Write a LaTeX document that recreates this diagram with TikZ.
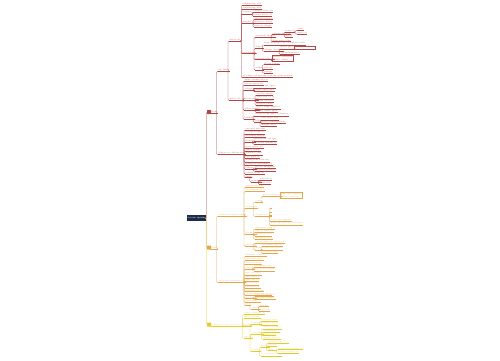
\documentclass[tikz,border=0pt]{standalone}
\usepackage{tikz}
\definecolor{mindred}{HTML}{B04646}
\definecolor{mindorange}{HTML}{E3A84E}
\definecolor{mindyellow}{HTML}{E2CC2C}
\definecolor{mindnavy}{HTML}{1F2B4A}
\colorlet{br}{mindred}
\tikzset{
  lf/.style={font=\fontsize{2.2}{2.6}\selectfont, text=br!80, inner sep=0.35pt, anchor=west,
             append after command={(\tikzlastnode.south west) edge[draw=br, line width=0.3pt] (\tikzlastnode.south east)}},
  notebox/.style={lf, draw=br, line width=0.3pt, align=left, inner sep=0.6pt},
  stub/.style={lf, minimum width=1.6pt},
  ln/.style={draw=br, line width=0.35pt, rounded corners=1pt},
  tag/.style={fill=br, minimum size=4pt, inner sep=0pt, rounded corners=0.5pt},
  rootbox/.style={fill=mindnavy, text=white, font=\fontsize{2.4}{2.8}\selectfont, minimum width=17pt,
                  minimum height=6.5pt, inner sep=0.5pt},
}
\begin{document}
\begin{tikzpicture}[x=1pt,y=-1pt]
\path[use as bounding box, fill=white] (0,0) rectangle (500,360);
\node[rootbox] (root) at (196.5,218) {lorem ipsum};

\begin{scope}
\colorlet{br}{mindred}
\node[tag] (t1) at (209,112) {};
\node[lf] (m1) at (211,112) {item};
\node[lf] (A) at (218,70) {sit amet};
\node[lf] (B) at (218,153) {labore et dolore ma};
\foreach \k in {A,B} \draw[ln] (m1.south east) -- (m1.south east -| 216.5,0) |- (\k.south west);

\node[lf] (A1) at (229,40) {dolor sit};
\node[lf] (A2) at (229,99) {dolor sit am};
\foreach \k in {A1,A2} \draw[ln] (A.south east) -- (A.south east -| 228,0) |- (\k.south west);

\node[lf] (a1) at (242,4) {adipiscing elit};
\node[lf] (a2) at (242,7.5) {adipiscing sed};
\node[lf] (a3) at (242,12.5) {tempor};
\node[lf] (a4) at (242,22) {magna al};
\node[lf] (a5) at (242,52.3) {incididunt};
\node[lf] (a6) at (242,76) {ut enim ad minim veniam quis nostru};
\foreach \k in {a1,a2,a3,a4,a5,a6} \draw[ln] (A1.south east) -- (A1.south east -| 241.2,0) |- (\k.south west);

\node[lf] (a31) at (253,11) {consectetur ad};
\node[lf] (a32) at (253,14.5) {consectetur el};
\foreach \k in {a31,a32} \draw[ln] (a3.south east) -- (a3.south east -| 252,0) |- (\k.south west);
\node[lf] (a41) at (254,18.3) {exercitation u};
\node[lf] (a42) at (254,22) {ullamco labor};
\node[lf] (a43) at (254,25.5) {nisi ut aliqui};
\foreach \k in {a41,a42,a43} \draw[ln] (a4.south east) -- (a4.south east -| 253,0) |- (\k.south west);

\node[lf] (a51) at (255,36) {nostrud exercit};
\node[lf] (a52) at (255,47) {fugiat};
\node[lf] (a53) at (255,58.3) {laboris nisi ut};
\node[lf] (a54) at (255,68.3) {aliqua};
\foreach \k in {a51,a52,a53,a54} \draw[ln] (a5.south east) -- (a5.south east -| 254,0) |- (\k.south west);
\node[lf] (a511) at (272,33.3) {commodo con};
\node[lf] (a512) at (272,40.3) {duis aute irur};
\foreach \k in {a511,a512} \draw[ln] (a51.south east) -- (a51.south east -| 271,0) |- (\k.south west);
\node[lf] (a5111) at (285,30.7) {irure d};
\node[lf] (a5112) at (285,35.7) {dolor};
\foreach \k in {a5111,a5112} \draw[ln] (a511.south east) -- (a511.south east -| 284,0) |- (\k.south west);
\node[lf] (a5113) at (297,28.7) {velit};
\node[lf] (a5114) at (297,32.7) {esse cil};
\foreach \k in {a5113,a5114} \draw[ln] (a5111.south east) -- (a5111.south east -| 295.5,0) |- (\k.south west);
\node[lf] (a521) at (263.5,43.3) {reprehenderit in voluptate velit};
\node[lf] (a522) at (263.5,50) {cillum dolore e};
\foreach \k in {a521,a522} \draw[ln] (a52.south east) -- (a52.south east -| 262.5,0) |- (\k.south west);
\node[lf] (a5221) at (280,47.3) {nulla paria};
\node[lf] (a5222) at (280,52.7) {excepteur sint};
\foreach \k in {a5221,a5222} \draw[ln] (a522.south east) -- (a522.south east -| 279,0) |- (\k.south west);
\node[notebox] (a5223) at (294,47.3) {sunt in culpa q};
\draw[ln] (a5221.south east) -- (a5223.south west);
\node[notebox] (a531) at (272,58.3) {officia deserunt\\mollit anim};
\draw[ln] (a53.south east) -- (a53.south east -| 271,0) |- (a531.south west);
\node[lf] (a541) at (263.5,63.3) {id est labor};
\node[lf] (a542) at (263.5,67.7) {sed ut};
\node[lf] (a543) at (263.5,71.7) {perspi};
\foreach \k in {a541,a542,a543} \draw[ln] (a54.south east) -- (a54.south east -| 262.5,0) |- (\k.south west);

\node[lf] (b1) at (244,80) {unde omnis iste n};
\node[lf] (b2) at (244,83.7) {natus error sit};
\node[lf] (b3) at (244,88.5) {volupta};
\node[lf] (b4) at (244,99) {accusantiu};
\node[lf] (b5) at (244,108.7) {doloremque};
\node[lf] (b6) at (244,118) {laudant};
\foreach \k in {b1,b2,b3,b4,b5,b6} \draw[ln] (A2.south east) -- (A2.south east -| 243,0) |- (\k.south west);
\node[lf] (b31) at (254,86.5) {totam rem aper};
\node[lf] (b32) at (254,90) {eaque ipsa qua};
\foreach \k in {b31,b32} \draw[ln] (b3.south east) -- (b3.south east -| 253,0) |- (\k.south west);
\node[lf] (b41) at (256,94) {ab illo inven};
\node[lf] (b42) at (256,97.3) {veritatis et q};
\node[lf] (b43) at (256,100.7) {quasi archite};
\node[lf] (b44) at (256,104) {beatae vitae};
\foreach \k in {b41,b42,b43,b44} \draw[ln] (b4.south east) -- (b4.south east -| 255,0) |- (\k.south west);
\node[lf] (b51) at (256,107.3) {dicta sunt explica};
\node[lf] (b52) at (256,111) {nemo enim ipsa};
\foreach \k in {b51,b52} \draw[ln] (b5.south east) -- (b5.south east -| 255,0) |- (\k.south west);
\node[lf] (b61) at (254,114.3) {voluptatem quia voluptas};
\node[lf] (b62) at (254,120.7) {odit};
\foreach \k in {b61,b62} \draw[ln] (b6.south east) -- (b6.south east -| 253,0) |- (\k.south west);
\node[lf] (b621) at (261,118.3) {aut fugit sed};
\node[lf] (b622) at (261,121.7) {quia consequuntur};
\node[lf] (b623) at (261,125) {magni dolo};
\foreach \k in {b621,b622,b623} \draw[ln] (b62.south east) -- (b62.south east -| 260,0) |- (\k.south west);

\node[lf] (c1) at (245,128.7) {eos qui ratione};
\node[lf] (c2) at (245,132.3) {voluptatem se};
\node[lf] (c3) at (245,136) {nesciunt neque};
\node[lf] (c4) at (245,141) {porro q};
\node[lf] (c5) at (245,146.7) {quia dolor sit};
\node[lf] (c6) at (245,150) {amet conse};
\node[lf] (c7) at (245,153.3) {adipisci velit};
\node[lf] (c8) at (245,156.7) {sed quia n};
\node[lf] (c9) at (245,160.3) {numquam eius mo};
\node[lf] (c10) at (245,164) {tempora incidunt ut};
\node[lf] (c11) at (245,168) {labore e};
\node[lf] (c12) at (245,172.5) {voluptatem ut};
\node[lf] (c13) at (245,176.3) {enim};
\foreach \k in {c1,c2,c3,c4,c5,c6,c7,c8,c9,c10,c11,c12,c13} \draw[ln] (B.south east) -- (B.south east -| 244,0) |- (\k.south west);
\node[lf] (c41) at (253.5,139.3) {quisquam est qui};
\node[lf] (c42) at (253.5,142.7) {dolorem ipsum q};
\foreach \k in {c41,c42} \draw[ln] (c4.south east) -- (c4.south east -| 252.5,0) |- (\k.south west);
\node[lf] (c111) at (254.5,166.7) {dolore magnam};
\node[lf] (c112) at (254.5,170) {aliquam quaera};
\foreach \k in {c111,c112} \draw[ln] (c11.south east) -- (c11.south east -| 253.5,0) |- (\k.south west);
\node[lf] (c131) at (250.8,180.7) {minima};
\draw[ln] (c13.south east) -- (c13.south east -| 249.8,0) |- (c131.south west);
\node[lf] (c1311) at (259.3,178.7) {veniam q};
\node[lf] (c1312) at (259.3,182.7) {quis nos};
\foreach \k in {c1311,c1312} \draw[ln] (c131.south east) -- (c131.south east -| 258.3,0) |- (\k.south west);
\end{scope}

\begin{scope}
\colorlet{br}{mindorange}
\node[tag] (t2) at (209,247.5) {};
\node[lf] (m2) at (211,247.5) {item};
\node[lf] (C) at (218,215) {exercitationem ullam};
\node[lf] (D) at (218,281) {corporis suscipit lab};
\foreach \k in {C,D} \draw[ln] (m2.south east) -- (m2.south east -| 216.5,0) |- (\k.south west);

\node[lf] (d1) at (245,186) {laboriosam ni};
\node[lf] (d2) at (245,190) {ut aliquid ex e};
\node[lf] (d3) at (245,207) {commodi};
\node[lf] (d4) at (245,233) {illum qu};
\node[lf] (d5) at (245,245) {vero eos};
\foreach \k in {d1,d2,d3,d4,d5} \draw[ln] (C.south east) -- (C.south east -| 244,0) |- (\k.south west);
\node[lf] (d31) at (254.5,200.7) {conse};
\node[lf] (d32) at (254.5,215) {voluptate ve};
\foreach \k in {d31,d32} \draw[ln] (d3.south east) -- (d3.south east -| 253.5,0) |- (\k.south west);
\node[lf] (d311) at (262,195) {quis autem vel};
\draw[ln] (d31.south east) -- (d31.south east -| 261,0) |- (d311.south west);
\node[notebox] (d3111) at (279.5,195.5) {eum iure repreh\\enderit qui in};
\draw[ln] (d311.south east) -- (d3111.south west);
\node[stub] (d321) at (270.3,207.7) {};
\node[stub] (d322) at (270.3,211.3) {};
\node[stub] (d323) at (270.3,214.7) {};
\node[lf] (d324) at (270.3,220) {velit esse quam};
\node[lf] (d325) at (270.3,223.3) {nihil molestiae consequa};
\foreach \k in {d321,d322,d323,d324,d325} \draw[ln] (d32.south east) -- (d32.south east -| 269.3,0) |- (\k.south west);
\node[lf] (d41) at (255,227.7) {dolorem eum f};
\node[lf] (d42) at (255,231) {fugiat quo vo};
\node[lf] (d43) at (255,234.3) {voluptas nul};
\node[lf] (d44) at (255,237.7) {pariatur at v};
\foreach \k in {d41,d42,d43,d44} \draw[ln] (d4.south east) -- (d4.south east -| 253.5,0) |- (\k.south west);
\node[lf] (d51) at (255,241.7) {accusamus et iusto od};
\node[lf] (d52) at (255,248.3) {dign};
\foreach \k in {d51,d52} \draw[ln] (d5.south east) -- (d5.south east -| 253.5,0) |- (\k.south west);
\node[lf] (d521) at (262,245) {ducimus qui bl};
\node[lf] (d522) at (262,248.3) {blanditiis praes};
\node[lf] (d523) at (262,251.7) {voluptatum};
\foreach \k in {d521,d522,d523} \draw[ln] (d52.south east) -- (d52.south east -| 261,0) |- (\k.south west);

\node[lf] (e1) at (245,255) {deleniti atque c};
\node[lf] (e2) at (245,259) {corrupti quos};
\node[lf] (e3) at (245,262.7) {dolores et q};
\node[lf] (e4) at (245,267.7) {molest};
\node[lf] (e5) at (245,273.3) {non provide};
\node[lf] (e6) at (245,276.7) {similique s};
\node[lf] (e7) at (245,280) {sunt in cu};
\node[lf] (e8) at (245,283.3) {qui officia};
\node[lf] (e9) at (245,287) {deserunt m};
\node[lf] (e10) at (245,290.3) {mollitia anim};
\node[lf] (e11) at (245,293.7) {id est laborum et d};
\node[lf] (e12) at (245,297.3) {dolorum};
\node[lf] (e13) at (245,300.7) {facilis est e};
\node[lf] (e14) at (245,304.3) {et e};
\foreach \k in {e1,e2,e3,e4,e5,e6,e7,e8,e9,e10,e11,e12,e13,e14} \draw[ln] (D.south east) -- (D.south east -| 244,0) |- (\k.south west);
\node[lf] (e41) at (253.5,266) {excepturi sint o};
\node[lf] (e42) at (253.5,269.3) {occaecati cupid};
\foreach \k in {e41,e42} \draw[ln] (e4.south east) -- (e4.south east -| 252.5,0) |- (\k.south west);
\node[lf] (e121) at (254.5,294.7) {fuga et harum};
\node[lf] (e122) at (254.5,298) {quidem rerum f};
\foreach \k in {e121,e122} \draw[ln] (e12.south east) -- (e12.south east -| 253.5,0) |- (\k.south west);
\node[lf] (e141) at (250.8,308) {expedi};
\draw[ln] (e14.south east) -- (e14.south east -| 249.8,0) |- (e141.south west);
\node[lf] (e1411) at (259.3,305.3) {distinc};
\node[lf] (e1412) at (259.3,310) {nam lib};
\foreach \k in {e1411,e1412} \draw[ln] (e141.south east) -- (e141.south east -| 258.3,0) |- (\k.south west);
\end{scope}

\begin{scope}
\colorlet{br}{mindyellow}
\node[tag] (t3) at (209,324.5) {};
\node[lf] (m3) at (211,324.5) {tempore cum soluta nobis elig};
\node[lf] (f1) at (243.5,313) {optio cumque n};
\node[lf] (f2) at (243.5,317) {nihil impedi};
\node[lf] (f3) at (243.5,337) {quo m};
\foreach \k in {f1,f2,f3} \draw[ln] (m3.south east) -- (m3.south east -| 242.5,0) |- (\k.south west);
\node[lf] (f31) at (251,323) {minus i};
\node[lf] (f32) at (251,333) {possimus};
\node[lf] (f33) at (251,350) {tempor};
\foreach \k in {f31,f32,f33} \draw[ln] (f3.south east) -- (f3.south east -| 250,0) |- (\k.south west);
\node[lf] (f311) at (260.5,320) {id quod max};
\node[lf] (f312) at (260.5,323.3) {placeat facer};
\foreach \k in {f311,f312} \draw[ln] (f31.south east) -- (f31.south east -| 259.5,0) |- (\k.south west);
\node[lf] (f321) at (262.5,327.3) {omnis volupta};
\node[lf] (f322) at (262.5,330.7) {assumenda e};
\node[lf] (f323) at (262.5,334.3) {omnis dol};
\node[lf] (f324) at (262.5,337.7) {repellendus t};
\foreach \k in {f321,f322,f323,f324} \draw[ln] (f32.south east) -- (f32.south east -| 261.5,0) |- (\k.south west);
\node[lf] (f331) at (260.5,346) {autem};
\node[lf] (f332) at (260.5,354.3) {et voluptates re};
\foreach \k in {f331,f332} \draw[ln] (f33.south east) -- (f33.south east -| 259.5,0) |- (\k.south west);
\node[lf] (f3311) at (267.5,341.7) {quibusdam et a};
\node[lf] (f3312) at (267.5,344.7) {officiis};
\node[lf] (f3313) at (267.5,349.3) {debi};
\foreach \k in {f3311,f3312,f3313} \draw[ln] (f331.south east) -- (f331.south east -| 266.5,0) |- (\k.south west);
\node[lf] (f33131) at (277.5,348.3) {rerum necessitatib};
\node[lf] (f33132) at (277.5,351.7) {saepe eveniet u};
\foreach \k in {f33131,f33132} \draw[ln] (f3313.south east) -- (f3313.south east -| 276.5,0) |- (\k.south west);
\end{scope}

\draw[ln, draw=mindyellow] (root.east) -- (root.east -| 206.5,0) |- (t3.west);
\draw[ln, draw=mindorange] (root.east) -- (root.east -| 206.5,0) |- (t2.west);
\draw[ln, draw=mindred] (root.east) -- (root.east -| 206.5,0) |- (t1.west);
\end{tikzpicture}
\end{document}
